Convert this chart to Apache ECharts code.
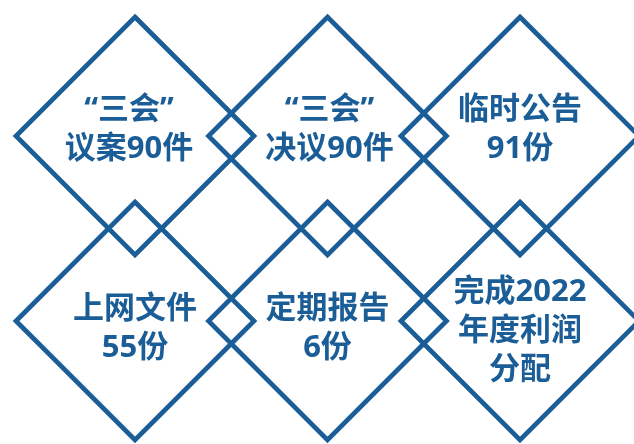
<!DOCTYPE html>
<html>
<head>
<meta charset="utf-8">
<script src="https://cdn.jsdelivr.net/npm/echarts@6/dist/echarts.min.js"></script>
<style>
html,body{margin:0;padding:0;background:#fff;}
#chart{width:634px;height:444px;}
</style>
</head>
<body>
<div id="chart"></div>
<script>
// Items of the infographic (read left-to-right, top-to-bottom)
const items = [
  '“三会”\n议案90件',
  '“三会”\n决议90件',
  '临时公告\n91份',
  '上网文件\n55份',
  '定期报告\n6份',
  '完成2022\n年度利润\n分配'
];
const columnsPerRow = 3;

const blue = '#1b5d97';
const chart = echarts.init(document.getElementById('chart'), null, {renderer: 'canvas'});

const data = items.map(function (t, i) {
  const col = i % columnsPerRow;
  const row = Math.floor(i / columnsPerRow);
  let offset = row === 0 ? [0, -6] : [0, 8];
  if (i === 0) offset = [-6, -6];
  if (i === 1) offset = [2, -6];
  if (i === 5) offset = [0, 10];
  return {
    value: [col, row],
    name: t,
    label: {offset: offset}
  };
});

chart.setOption({
  animation: false,
  backgroundColor: '#ffffff',
  grid: {left: 135, right: 114, top: 136, bottom: 123, containLabel: false},
  xAxis: {type: 'value', min: 0, max: 2, show: false},
  yAxis: {type: 'value', min: 0, max: 1, inverse: true, show: false},
  series: [{
    type: 'scatter',
    silent: true,
    symbol: 'diamond',
    symbolSize: 238,
    itemStyle: {
      color: 'rgba(0,0,0,0)',
      borderColor: blue,
      borderWidth: 4.7,
      opacity: 1
    },
    label: {
      show: true,
      position: 'inside',
      formatter: function (p) { return p.name; },
      color: blue,
      fontSize: 31,
      fontWeight: 'bold',
      fontFamily: '"Noto Sans", "Noto Sans CJK SC", sans-serif',
      lineHeight: 39,
      align: 'center',
      verticalAlign: 'middle'
    },
    data: data
  }]
});
</script>
</body>
</html>
